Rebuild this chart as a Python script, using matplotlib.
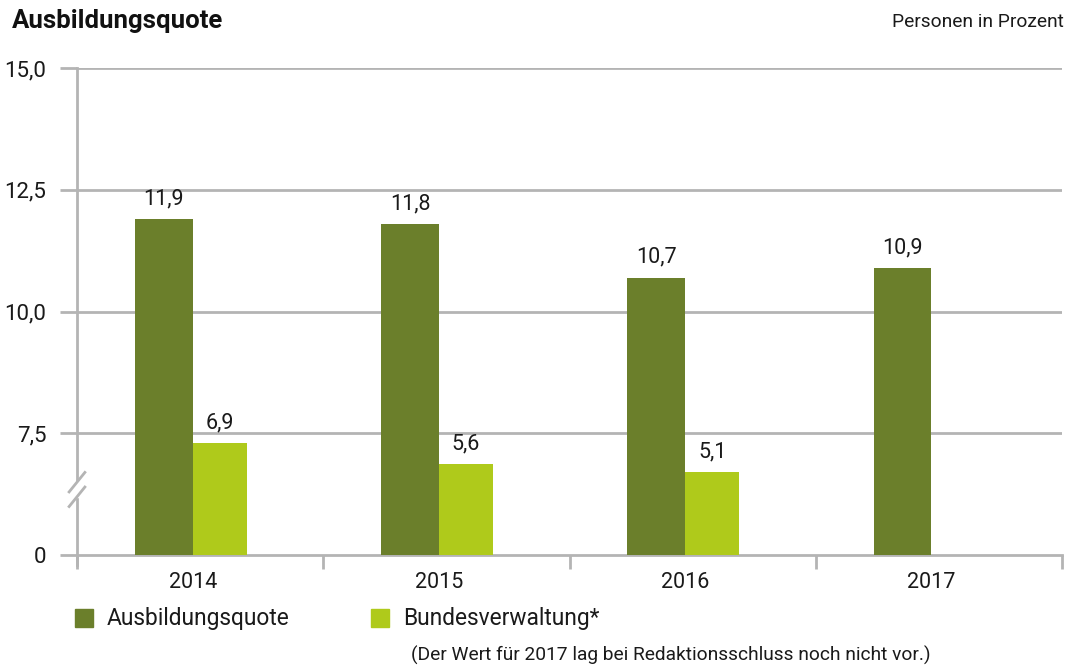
import numpy as np
import matplotlib
matplotlib.use("Agg")
import matplotlib.pyplot as plt
from matplotlib.patches import Rectangle

plt.rcParams['font.family'] = ['Roboto', 'DejaVu Sans']

years = ['2014', '2015', '2016', '2017']
quote = [11.9, 11.8, 10.7, 10.9]
bund = [6.9, 5.6, 5.1, np.nan]   # 2017 noch nicht verfügbar
yticks = [0, 7.5, 10.0, 12.5, 15.0]

dark = '#6b7f2b'
light = '#afca1b'
grey = '#b4b4b4'
txt = '#1a1a1a'

# gebrochene Achse: 0..7,5 wird auf die Höhe 5..7,5 gestaucht
def fwd(v):
    v = np.asarray(v, dtype=float)
    return np.where(v >= 7.5, v, 5 + v / 3)

def inv(d):
    d = np.asarray(d, dtype=float)
    return np.where(d >= 7.5, d, (d - 5) * 3)

fmt = lambda v: f'{v:.1f}'.replace('.', ',')

fig = plt.figure(figsize=(10.83, 6.66), dpi=100)
ax = fig.add_axes([77 / 1083, 1 - 565 / 666, (1062 - 77) / 1083, (565 - 68) / 666])
ax.set_yscale('function', functions=(fwd, inv))
ax.set_ylim(-0.6, 15)
ax.set_xlim(-0.5, 3.5)

x = np.arange(len(years))
w1, w2 = 0.235, 0.22
ax.bar(x - 0.03 - w1 / 2, quote, w1, color=dark, zorder=3)
ax.bar(x - 0.03 + w2 / 2, bund, w2, color=light, zorder=3)

for xi, v in zip(x, quote):
    ax.annotate(fmt(v), (xi - 0.03 - w1 / 2, v), xytext=(0, 7), textcoords='offset points',
                ha='center', va='bottom', fontsize=15.5, color=txt)
for xi, v in zip(x, bund):
    if not np.isnan(v):
        ax.annotate(fmt(v), (xi - 0.03 + w2 / 2, v), xytext=(0, 7), textcoords='offset points',
                    ha='center', va='bottom', fontsize=15.5, color=txt)

# Gitter und Achsen
for s in ['top', 'right']:
    ax.spines[s].set_visible(False)
ax.spines['left'].set_color(grey)
ax.spines['left'].set_linewidth(2)
ax.spines['bottom'].set_position(('data', 0))
ax.spines['bottom'].set_color(grey)
ax.spines['bottom'].set_linewidth(2)
for t in yticks[1:]:
    ax.axhline(t, color=grey, lw=2, zorder=1)

ax.set_yticks(yticks)
ax.set_yticklabels(['0'] + [fmt(t) for t in yticks[1:]])
ax.tick_params(axis='y', length=12, width=2, color=grey, pad=10, labelsize=16, labelcolor=txt)
ax.yaxis.set_minor_locator(matplotlib.ticker.NullLocator())

ax.set_xticks(x - 0.03)
ax.set_xticklabels(years)
ax.set_xticks(np.arange(-0.5, 4, 1), minor=True)
ax.tick_params(axis='x', which='major', length=0, pad=12, labelsize=15.5, labelcolor=txt)
ax.tick_params(axis='x', which='minor', length=10, width=2, color=grey)

# Bruchzeichen auf der y-Achse
tr = matplotlib.transforms.blended_transform_factory(ax.transAxes, ax.transData)
ax.add_patch(Rectangle((-0.003, 3.6), 0.006, 0.9, transform=tr, color='white', clip_on=False, zorder=5))
for yb in (3.6, 4.5):
    ax.plot([-0.008, 0.008], [yb - 0.6, yb + 0.6], transform=tr, color=grey, lw=2,
            clip_on=False, zorder=6)

fig.text(12 / 1083, 1 - 21 / 666, 'Ausbildungsquote', fontsize=18.5, fontweight='bold',
         va='center', ha='left', color='#111111')
fig.text(1064 / 1083, 1 - 22 / 666, 'Personen in Prozent', fontsize=13.8,
         va='center', ha='right', color=txt)

# Legende
for px, col, lab in [(75, dark, 'Ausbildungsquote'), (371, light, 'Bundesverwaltung*')]:
    fig.add_artist(Rectangle((px / 1083, 1 - 627 / 666), 18 / 1083, 18 / 666,
                             transform=fig.transFigure, color=col))
    fig.text((px + 32) / 1083, 1 - 619 / 666, lab, fontsize=16.4, va='center', ha='left',
             color=txt)
fig.text(411 / 1083, 1 - 655 / 666, '(Der Wert für 2017 lag bei Redaktionsschluss noch nicht vor.)',
         fontsize=13.8, va='center', ha='left', color=txt)

fig.savefig('out.png', dpi=100)
